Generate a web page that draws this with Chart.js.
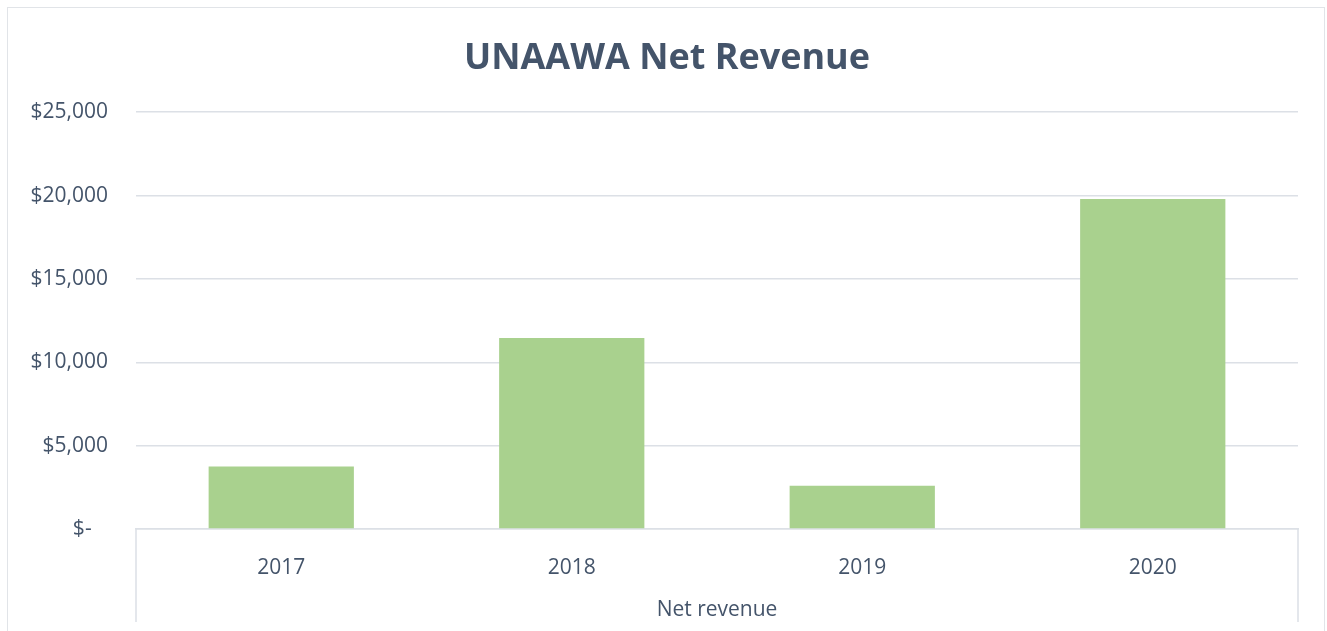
<!DOCTYPE html>
<html>
<head>
<meta charset="utf-8">
<script src="https://cdn.jsdelivr.net/npm/chart.js@4.4.1/dist/chart.umd.min.js"></script>
<style>
    html, body { margin: 0; padding: 0; background: #fff; }
    #wrap { position: relative; width: 1327px; height: 631px; overflow: hidden; }
    #frame {
        position: absolute; left: 7px; top: 7px; width: 1318px; height: 700px;
        border: 1.5px solid #E1E4E8; box-sizing: border-box;
    }
    canvas { position: absolute; left: 0; top: 0; }
</style>
</head>
<body>
<div id="wrap">
    <div id="frame"></div>
    <canvas id="revenueChart" width="1327" height="631"></canvas>
</div>
<script>
// Data
const years = ['2017', '2018', '2019', '2020'];
const netRevenue = [3750, 11450, 2600, 19800];
const yTicks = [0, 5000, 10000, 15000, 20000, 25000];

const textColor = '#44546A';
const gridColor = '#DCE0E6';
const barColor = '#A9D18E';
const fontFamily = '"Open Sans", "Noto Sans", sans-serif';

function formatDollars(v) {
    if (v === 0) return '$-   ';
    return '$' + v.toLocaleString('en-US');
}

// Excel-style outer dividers of the category axis
const categoryEdges = {
    id: 'categoryEdges',
    afterDraw(chart) {
        const { ctx, chartArea } = chart;
        ctx.save();
        ctx.strokeStyle = gridColor;
        ctx.lineWidth = 1.5;
        ctx.beginPath();
        [chartArea.left, chartArea.right].forEach(x => {
            ctx.moveTo(x, chartArea.bottom);
            ctx.lineTo(x, chartArea.bottom + 93);
        });
        ctx.stroke();
        ctx.restore();
    }
};

Chart.defaults.font.family = fontFamily;
Chart.defaults.color = textColor;

new Chart(document.getElementById('revenueChart'), {
    type: 'bar',
    data: {
        labels: years,
        datasets: [{
            label: 'Net revenue',
            data: netRevenue,
            backgroundColor: barColor,
            barPercentage: 0.5,
            categoryPercentage: 1.0
        }]
    },
    options: {
        responsive: false,
        animation: false,
        layout: { padding: { left: 7, right: 0, top: 0, bottom: 0 } },
        plugins: {
            legend: { display: false },
            tooltip: { enabled: false },
            title: {
                display: true,
                text: 'UNAAWA Net Revenue',
                color: textColor,
                font: { size: 36, weight: 'bold' },
                padding: { top: 37, bottom: 32 }
            }
        },
        scales: {
            x: {
                grid: { display: false },
                border: { display: true, color: gridColor, width: 1.5 },
                ticks: { font: { size: 21 }, padding: 18, color: textColor },
                title: {
                    display: true,
                    text: 'Net revenue',
                    font: { size: 21 },
                    color: textColor,
                    padding: { top: 14, bottom: 8 }
                },
                afterFit(scale) { scale.height = 102; }
            },
            y: {
                min: 0,
                max: 25000,
                afterBuildTicks(scale) {
                    scale.ticks = yTicks.map(v => ({ value: v }));
                },
                afterFit(scale) { scale.width = 129; },
                grid: { color: gridColor, lineWidth: 1.5, drawTicks: false },
                border: { display: false },
                ticks: {
                    font: { size: 21 },
                    color: textColor,
                    padding: 28,
                    callback: v => formatDollars(v)
                }
            },
            // empty right-hand spacer so the title stays centred on the page
            spacer: {
                type: 'linear',
                position: 'right',
                grid: { display: false },
                border: { display: false },
                ticks: { display: false },
                afterFit(scale) { scale.width = 29; }
            }
        }
    },
    plugins: [categoryEdges]
});
</script>
</body>
</html>
